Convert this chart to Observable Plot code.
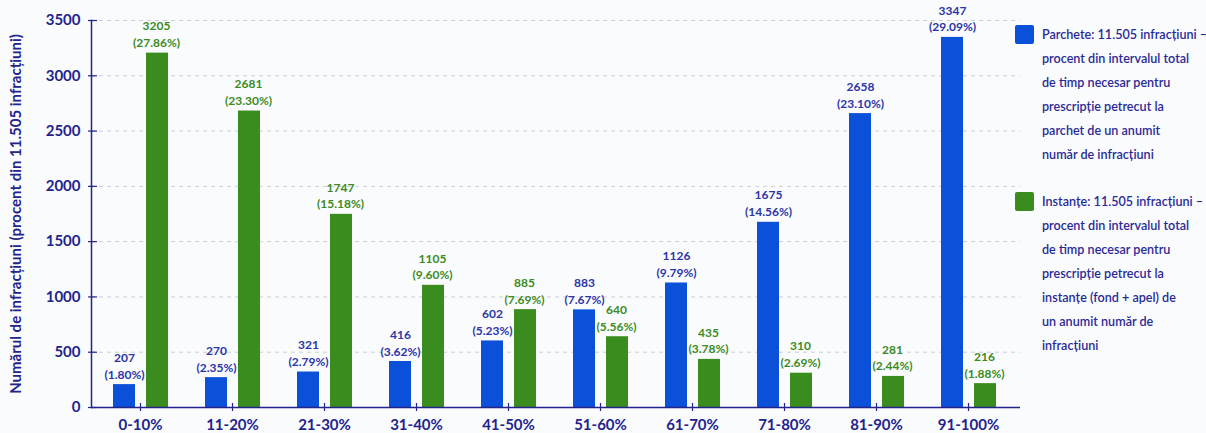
<!DOCTYPE html>
<html>
<head>
<meta charset="utf-8">
<script src="https://cdn.jsdelivr.net/npm/d3@7"></script>
<script src="https://cdn.jsdelivr.net/npm/@observablehq/plot@0.6"></script>
<style>
  html, body { margin: 0; padding: 0; background: #fafbfd; }
  #wrap { position: relative; width: 1206px; height: 433px; overflow: hidden; font-family: Lato, "Open Sans", sans-serif; }
  #chart { position: absolute; left: 0; top: 0; }
  .leg { position: absolute; left: 1015px; }
  .sw { position: absolute; left: 0; width: 19px; height: 19px; border-radius: 2px; }
  .txt { position: absolute; left: 27px; width: 162px; font-size: 12.6px; font-weight: 600; line-height: 24px; color: #2a2a96; white-space: nowrap; }
</style>
</head>
<body>
<div id="wrap">
  <div id="chart"></div>
  <div id="legend"></div>
</div>
<script>
const categories = ["0-10%", "11-20%", "21-30%", "31-40%", "41-50%", "51-60%", "61-70%", "71-80%", "81-90%", "91-100%"];
const parchete = [207, 270, 321, 416, 602, 883, 1126, 1675, 2658, 3347];
const parchetePct = ["1.80", "2.35", "2.79", "3.62", "5.23", "7.67", "9.79", "14.56", "23.10", "29.09"];
const instante = [3205, 2681, 1747, 1105, 885, 640, 435, 310, 281, 216];
const instantePct = ["27.86", "23.30", "15.18", "9.60", "7.69", "5.56", "3.78", "2.69", "2.44", "1.88"];
const yTicks = [0, 500, 1000, 1500, 2000, 2500, 3000, 3500];
const yTitle = "Numărul de infracțiuni (procent din 11.505 infracțiuni)";
const legendItems = [
  { color: "#0a50d8", lines: ["Parchete: 11.505 infracțiuni –", "procent din intervalul total", "de timp necesar pentru", "prescripție petrecut la", "parchet de un anumit", "număr de infracțiuni"] },
  { color: "#3b8c1f", lines: ["Instanțe: 11.505 infracțiuni –", "procent din intervalul total", "de timp necesar pentru", "prescripție petrecut la", "instanțe (fond + apel) de", "un anumit număr de", "infracțiuni"] }
];

const navy = "#23238c";
const blue = "#0a50d8";
const green = "#3b8c1f";
const blueText = "#2b35a8";
const greenText = "#3d8a22";

const pRows = categories.map((c, i) => ({ cat: c, value: parchete[i], pct: parchetePct[i] }));
const iRows = categories.map((c, i) => ({ cat: c, value: instante[i], pct: instantePct[i] }));

const plot = Plot.plot({
  width: 1020,
  height: 433,
  marginLeft: 91,
  marginRight: 0,
  marginTop: 20,
  marginBottom: 26,
  style: { fontFamily: "Lato, 'Open Sans', sans-serif", background: "transparent", overflow: "visible" },
  x: { domain: categories, range: [94, 1014], padding: 0, label: null },
  y: { domain: [0, 3500], label: null },
  marks: [
    Plot.gridY(yTicks.filter(d => d > 0), { stroke: "#cdced6", strokeOpacity: 1, strokeDasharray: "4,4" }),
    Plot.barY(pRows, { x: "cat", y: "value", fill: blue, insetLeft: 19, insetRight: 51 }),
    Plot.barY(iRows, { x: "cat", y: "value", fill: green, insetLeft: 52, insetRight: 18 }),
    Plot.text(pRows, { x: "cat", y: "value", text: d => `${d.value}\n(${d.pct}%)`, dx: -16, dy: -6, lineAnchor: "bottom", lineHeight: 1.4, fill: blueText, fontSize: 12, fontWeight: 700 }),
    Plot.text(iRows, { x: "cat", y: "value", text: d => `${d.value}\n(${d.pct}%)`, dx: 16, dy: -6, lineAnchor: "bottom", lineHeight: 1.4, fill: greenText, fontSize: 12, fontWeight: 700 }),
    Plot.frame({ anchor: "left", stroke: navy, strokeWidth: 1.5 }),
    Plot.ruleY([0], { stroke: navy, strokeWidth: 1.5 }),
    Plot.axisY(yTicks, { tickSize: 9, dx: 6, fill: "none", stroke: navy, strokeWidth: 1.2, label: null }),
    Plot.axisY(yTicks, { tickSize: 0, tickPadding: 11, tickFormat: d => String(d), fill: navy, fontSize: 15, fontWeight: 700, label: yTitle, labelAnchor: "center", labelOffset: 81, labelArrow: "none" }),
    Plot.axisX({ tickSize: 8, dy: -4, fill: "none", stroke: navy, strokeWidth: 1.2, label: null }),
    Plot.axisX({ tickSize: 0, tickPadding: 12, fill: navy, fontSize: 15, fontWeight: 700, label: null })
  ]
});
document.getElementById("chart").appendChild(plot);

const legend = document.getElementById("legend");
const tops = [23, 190];
legendItems.forEach((item, k) => {
  const g = document.createElement("div");
  g.className = "leg";
  g.style.top = tops[k] + "px";
  const sw = document.createElement("div");
  sw.className = "sw";
  sw.style.background = item.color;
  sw.style.top = "2px";
  const t = document.createElement("div");
  t.className = "txt";
  t.innerHTML = item.lines.join("<br>");
  g.appendChild(sw);
  g.appendChild(t);
  legend.appendChild(g);
});
</script>
</body>
</html>
